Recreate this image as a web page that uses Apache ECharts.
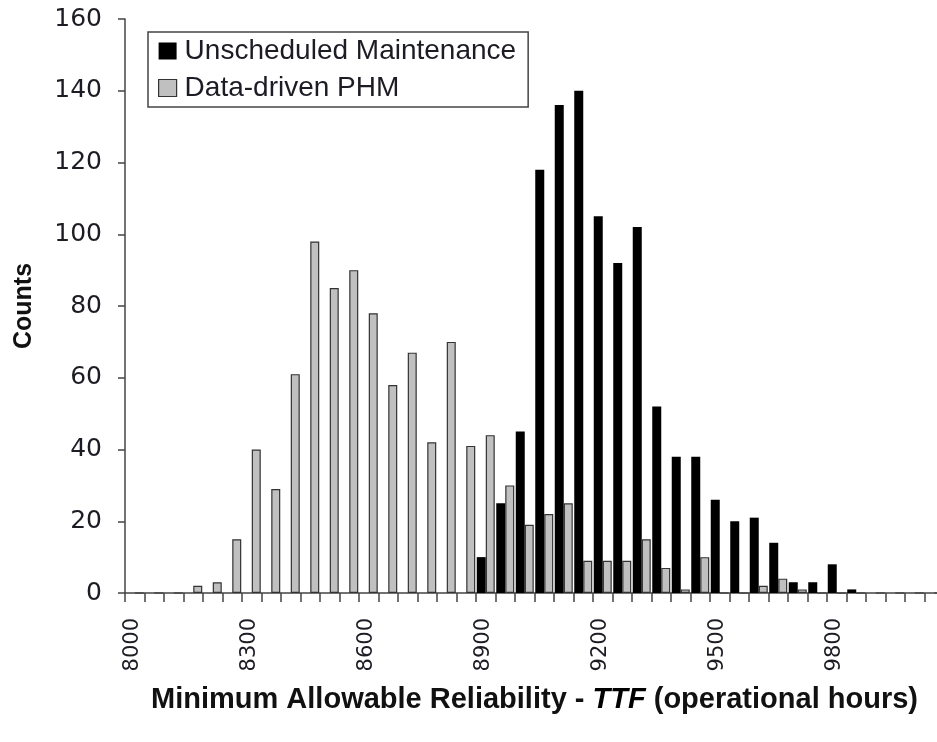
<!DOCTYPE html>
<html>
<head>
<meta charset="utf-8">
<title>Minimum Allowable Reliability - TTF</title>
<script src="https://cdn.jsdelivr.net/npm/echarts@6/dist/echarts.min.js"></script>
<style>
  html, body { margin: 0; padding: 0; background: #ffffff; }
  #chart { width: 937px; height: 742px; }
</style>
</head>
<body>
<div id="chart"></div>
<script>
// TTF bins (operational hours), 50 h wide
const ttfBins = [
  '8000','8050','8100','8150','8200','8250','8300','8350','8400','8450',
  '8500','8550','8600','8650','8700','8750','8800','8850','8900','8950',
  '9000','9050','9100','9150','9200','9250','9300','9350','9400','9450',
  '9500','9550','9600','9650','9700','9750','9800','9850','9900','9950',
  '10000','10050'
];

// Counts per bin: unscheduled maintenance
const unscheduledCounts = [
  0, 0, 0, 0, 0, 0, 0, 0, 0, 0,
  0, 0, 0, 0, 0, 0, 0, 0, 10, 25,
  45, 118, 136, 140, 105, 92, 102, 52, 38, 38,
  26, 20, 21, 14, 3, 3, 8, 1, 0, 0,
  0, 0
];

// Counts per bin: data-driven PHM
const phmCounts = [
  0, 0, 0, 2, 3, 15, 40, 29, 61, 98,
  85, 90, 78, 58, 67, 42, 70, 41, 44, 30,
  19, 22, 25, 9, 9, 9, 15, 7, 1, 10,
  0, 0, 2, 4, 1, 0, 0, 0, 0, 0,
  0, 0
];

// Y axis range
const countMin = 0;
const countMax = 160;
const countStep = 20;

const seriesNames = ['Unscheduled Maintenance', 'Data-driven PHM'];

const textColor = '#1c1c24';
const axisColor = '#444444';

const chart = echarts.init(document.getElementById('chart'), null, { renderer: 'canvas' });

chart.setOption({
  backgroundColor: '#ffffff',
  animation: false,
  grid: {
    left: 125,
    top: 19,
    bottom: 149,
    right: -7,
    containLabel: false,
    outerBoundsMode: 'none'
  },
  legend: {
    orient: 'vertical',
    left: 148,
    top: 32,
    padding: [5, 12, 5, 10],
    itemGap: 9,
    itemWidth: 18,
    itemHeight: 17,
    borderColor: '#444444',
    borderWidth: 1.5,
    backgroundColor: '#ffffff',
    textStyle: {
      fontFamily: 'Liberation Sans, Arial, sans-serif',
      fontSize: 28,
      color: textColor,
      padding: [0, 0, 0, 3]
    },
    data: [
      { name: seriesNames[0], icon: 'rect', itemStyle: { color: '#000000', borderWidth: 0 } },
      { name: seriesNames[1], icon: 'rect', itemStyle: { color: '#c0c0c0', borderColor: '#333333', borderWidth: 1.2 } }
    ]
  },
  xAxis: {
    type: 'category',
    data: ttfBins,
    boundaryGap: true,
    name: '{a|Minimum Allowable Reliability - }{b|TTF}{a| (operational hours)}',
    nameLocation: 'middle',
    nameGap: 92,
    nameTextStyle: {
      rich: {
        a: { fontFamily: 'Liberation Sans, Arial, sans-serif', fontSize: 29, fontWeight: 'bold', color: '#111111' },
        b: { fontFamily: 'Liberation Sans, Arial, sans-serif', fontSize: 29, fontWeight: 'bold', fontStyle: 'italic', color: '#000000' }
      }
    },
    axisLine: { show: true, lineStyle: { color: axisColor, width: 1.5 } },
    axisTick: { show: true, interval: 0, length: 9, lineStyle: { color: axisColor, width: 1.5 } },
    axisLabel: {
      interval: 5,
      rotate: 90,
      margin: 25,
      verticalAlign: 'bottom',
      lineHeight: 5,
      fontFamily: 'DejaVu Sans, sans-serif',
      fontSize: 21,
      color: textColor
    },
    splitLine: { show: false }
  },
  yAxis: {
    type: 'value',
    min: countMin,
    max: countMax,
    interval: countStep,
    name: 'Counts',
    nameLocation: 'middle',
    nameRotate: 90,
    nameGap: 88,
    nameTextStyle: {
      fontFamily: 'Liberation Sans, Arial, sans-serif',
      fontSize: 25,
      fontWeight: 'bold',
      color: '#111111'
    },
    axisLine: { show: true, lineStyle: { color: axisColor, width: 1.5 } },
    axisTick: { show: true, length: 7, lineStyle: { color: axisColor, width: 1.5 } },
    axisLabel: {
      margin: 23,
      fontFamily: 'DejaVu Sans, sans-serif',
      fontSize: 25,
      color: textColor
    },
    splitLine: { show: false }
  },
  series: [
    {
      name: seriesNames[0],
      type: 'bar',
      data: unscheduledCounts,
      barWidth: 9,
      barGap: '0%',
      itemStyle: { color: '#000000', borderColor: '#000000', borderWidth: 0 }
    },
    {
      name: seriesNames[1],
      type: 'bar',
      data: phmCounts,
      barWidth: 9,
      barGap: '0%',
      itemStyle: { color: '#c0c0c0', borderColor: '#333333', borderWidth: 1.2 }
    }
  ]
});
</script>
</body>
</html>
